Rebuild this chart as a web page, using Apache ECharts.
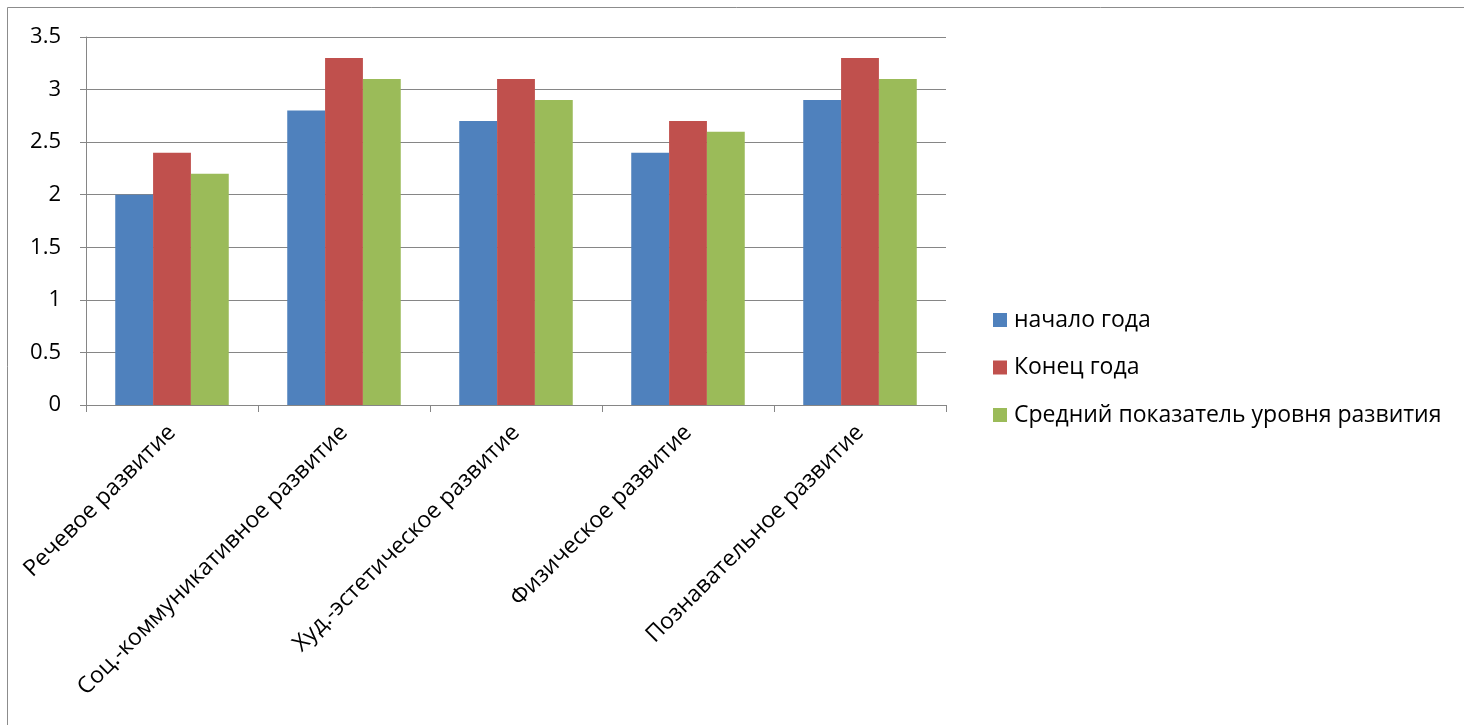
<!DOCTYPE html>
<html><head><meta charset="utf-8">
<script src="https://cdn.jsdelivr.net/npm/echarts@6/dist/echarts.min.js"></script>
<style>html,body{margin:0;padding:0;background:#fff}#c{width:1464px;height:725px}</style>
</head><body><div id="c"></div>
<script>
const categories = ['Речевое развитие','Соц.-коммуникативное развитие','Худ.-эстетическое развитие','Физическое развитие','Познавательное развитие'];
const seriesNames = ['начало года','Конец года','Средний показатель уровня развития'];
const startYear = [2.0, 2.8, 2.7, 2.4, 2.9];
const endYear = [2.4, 3.3, 3.1, 2.7, 3.3];
const average = [2.2, 3.1, 2.9, 2.6, 3.1];
const colors = ['#4F81BD','#C0504D','#9BBB59'];
const FONT = 'Open Sans';
const chart = echarts.init(document.getElementById('c'));
chart.setOption({
  animation:false,
  backgroundColor:'#fff',
  graphic:[{type:'rect',shape:{x:7.5,y:7.5,width:1500,height:800},style:{fill:'none',stroke:'#8c8c8c',lineWidth:1},silent:true}],
  grid:{left:86,top:37,width:860,height:368},
  legend:{orient:'vertical',left:993,top:308,padding:0,itemWidth:14,itemHeight:14,itemGap:23.5,icon:'rect',
    textStyle:{fontFamily:FONT,fontSize:23,lineHeight:24,color:'#000',padding:[0,0,0,2]},data:seriesNames},
  xAxis:{type:'category',data:categories,
    axisLine:{lineStyle:{color:'#868686'}},
    axisTick:{show:true,alignWithLabel:false,length:7,lineStyle:{color:'#868686'}},
    axisLabel:{rotate:45,margin:24,fontFamily:FONT,fontSize:23,color:'#000',interval:0}},
  yAxis:{type:'value',min:0,max:3.5,interval:0.5,
    axisLine:{show:true,lineStyle:{color:'#868686'}},
    axisTick:{show:true,length:6,lineStyle:{color:'#868686'}},
    splitLine:{lineStyle:{color:'#868686',width:1}},
    axisLabel:{margin:25,fontFamily:FONT,fontSize:22,color:'#000'}},
  series:[
    {name:seriesNames[0],type:'bar',data:startYear,itemStyle:{color:colors[0]},barGap:'0%',barCategoryGap:'34%'},
    {name:seriesNames[1],type:'bar',data:endYear,itemStyle:{color:colors[1]},barGap:'0%',barCategoryGap:'34%'},
    {name:seriesNames[2],type:'bar',data:average,itemStyle:{color:colors[2]},barGap:'0%',barCategoryGap:'34%'}
  ]
});
</script></body></html>
